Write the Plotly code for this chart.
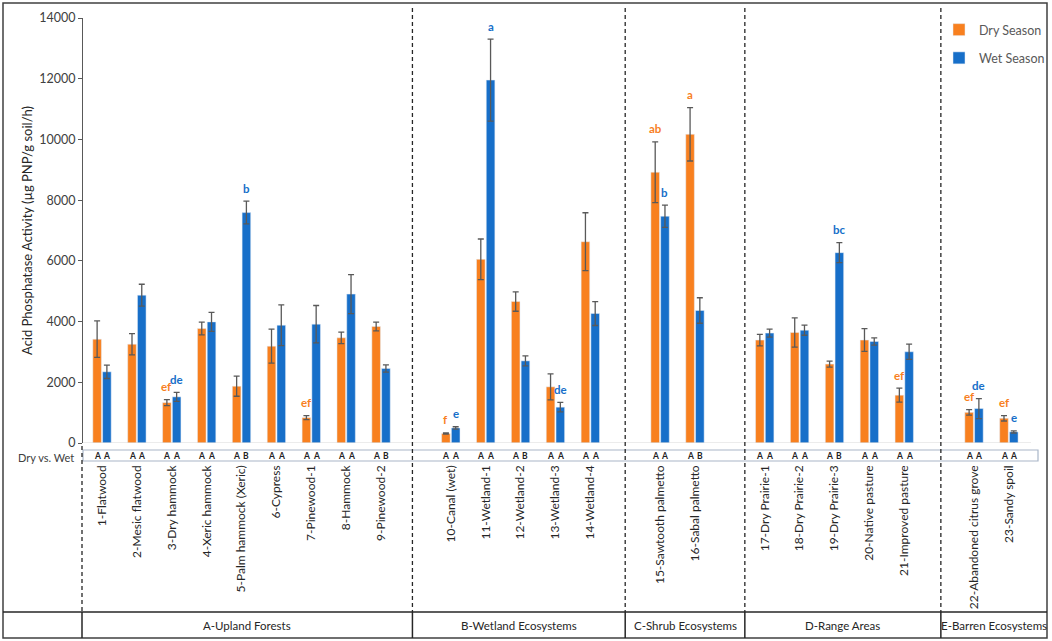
import plotly.graph_objects as go

groups = ["A-Upland Forests", "B-Wetland Ecosystems", "C-Shrub Ecosystems",
          "D-Range Areas", "E-Barren Ecosystems"]
group_sizes = [9, 5, 2, 5, 2]

sites = ["1-Flatwood", "2-Mesic flatwood", "3-Dry hammock", "4-Xeric hammock",
         "5-Palm hammock (Xeric)", "6-Cypress", "7-Pinewood-1", "8-Hammock", "9-Pinewood-2",
         "10-Canal (wet)", "11-Wetland-1", "12-Wetland-2", "13-Wetland-3", "14-Wetland-4",
         "15-Sawtooth palmetto", "16-Sabal palmetto",
         "17-Dry Prairie-1", "18-Dry Prairie-2", "19-Dry Prairie-3", "20-Native pasture",
         "21-Improved pasture",
         "22-Abandoned citrus grove", "23-Sandy spoil"]

dry = [3420, 3255, 1330, 3770, 1870, 3190, 835, 3465, 3840,
       310, 6050, 4660, 1850, 6630,
       8920, 10170,
       3390, 3640, 2600, 3390, 1575,
       1010, 815]
dry_err = [600, 350, 100, 210, 330, 560, 65, 190, 145,
           20, 670, 320, 430, 955,
           1000, 880,
           190, 485, 100, 375, 230,
           90, 90]
wet = [2345, 4870, 1520, 3990, 7590, 3880, 3915, 4905, 2455,
       495, 11955, 2705, 1180, 4265,
       7470, 4365,
       3620, 3715, 6270, 3345, 3005,
       1135, 365]
wet_err = [220, 360, 150, 310, 375, 670, 615, 640, 120,
           40, 1350, 165, 155, 395,
           365, 420,
           130, 165, 330, 120, 250,
           330, 35]

dry_sig = ["", "", "ef", "", "", "", "ef", "", "",
           "f", "", "", "", "",
           "ab", "a",
           "", "", "", "", "ef",
           "ef", "ef"]
wet_sig = ["", "", "de", "", "b", "", "", "", "",
           "e", "a", "", "de", "",
           "b", "",
           "", "", "bc", "", "",
           "de", "e"]

dvw_dry = list("AAAAAAAAA" "AAAAA" "AA" "AAAAA" "AA")
dvw_wet = list("AAAABAAAB" "AABAA" "AB" "AABAA" "AA")

ORANGE = "#F8801F"
BLUE = "#176FC9"
FONT = "Lato"

# slot positions: one empty slot between groups
pos, gaps = [], []
slot = 0
for n in group_sizes:
    pos += list(range(slot, slot + n))
    slot += n
    gaps.append(slot)
    slot += 1
gaps = gaps[:-1]
gap_shift = [-0.1, 0.0, 0.43, 0.05]
dividers = [g + s for g, s in zip(gaps, gap_shift)]

W, H = 1052, 641
ML, MR, MT, MB = 83, 4, 18, 198
SLOT = 34.88
XR = [-19 / SLOT, -19 / SLOT + (W - ML - MR) / SLOT]
YR = [0, 14000]


def pxx(px):
    return (px - ML) / (W - ML - MR)


def pxy(py):
    return (H - MB - py) / (H - MT - MB)


def d2p(x):
    return (x - XR[0]) / (XR[1] - XR[0])


fig = go.Figure()
fig.add_trace(go.Bar(
    x=pos, y=dry, name="Dry Season", marker_color=ORANGE, legendgroup="d",
    error_y=dict(type="data", array=dry_err, color="#595959", thickness=1.3, width=3),
    hoverinfo="y"))
fig.add_trace(go.Bar(
    x=pos, y=wet, name="Wet Season", marker_color=BLUE, legendgroup="w",
    error_y=dict(type="data", array=wet_err, color="#595959", thickness=1.3, width=3),
    hoverinfo="y"))

bargap = 0.44
off = (1 - bargap) / 4

ann = []
for i, p in enumerate(pos):
    for lab, val, err, dx, col in [(dry_sig[i], dry[i], dry_err[i], -off, ORANGE),
                                   (wet_sig[i], wet[i], wet_err[i], off, BLUE)]:
        if lab:
            ann.append(dict(x=p + dx, y=val + err, text="<b>" + lab + "</b>", showarrow=False,
                            xanchor="center", yanchor="middle", yshift=13,
                            font=dict(family=FONT, size=11.5, color=col)))
    for lab, dx in [(dvw_dry[i], -off), (dvw_wet[i], off)]:
        ann.append(dict(x=p + dx, y=pxy(456), yref="paper", text="<b>" + lab + "</b>",
                        xanchor="center", yanchor="middle",
                        showarrow=False, font=dict(family=FONT, size=8.5, color="#222")))

ann.append(dict(x=pxx(76), y=pxy(457), xref="paper", yref="paper", text="Dry vs. Wet",
                xanchor="right", yanchor="middle", showarrow=False,
                font=dict(family=FONT, size=11, color="#404040")))

# bottom table cells
edges = [pxx(82)] + [d2p(d) for d in dividers] + [pxx(1047)]
for k, g in enumerate(groups):
    ann.append(dict(x=(edges[k] + edges[k + 1]) / 2, y=pxy(625), xref="paper", yref="paper",
                    text=g, showarrow=False, xanchor="center", yanchor="middle",
                    font=dict(family=FONT, size=11.5, color="#262626")))

line_c = "#262626"
shapes = [
    # outer frame
    dict(type="rect", xref="paper", yref="paper", x0=pxx(3), x1=pxx(1047), y0=pxy(3), y1=pxy(638),
         line=dict(color="#404040", width=1.5)),
    # x baseline
    dict(type="line", xref="paper", yref="y", x0=pxx(83), x1=pxx(1031), y0=0, y1=0,
         line=dict(color="#D9D9D9", width=1.2)),
    # Dry vs Wet box
    dict(type="rect", xref="paper", yref="paper", x0=pxx(83), x1=pxx(1038), y0=pxy(450), y1=pxy(461),
         line=dict(color="#A9B6C8", width=1.2)),
    # group table top line
    dict(type="line", xref="paper", yref="paper", x0=pxx(3), x1=pxx(1047), y0=pxy(612), y1=pxy(612),
         line=dict(color=line_c, width=1.5)),
    dict(type="line", xref="paper", yref="paper", x0=pxx(82), x1=pxx(82), y0=pxy(612), y1=pxy(638),
         line=dict(color=line_c, width=1.5)),
    dict(type="line", xref="paper", yref="paper", x0=pxx(82), x1=pxx(82), y0=pxy(446), y1=pxy(612),
         line=dict(color=line_c, width=1.3, dash="4px,3px")),
]
for d in dividers:
    shapes.append(dict(type="line", xref="x", yref="paper", x0=d, x1=d, y0=pxy(8), y1=pxy(612),
                       line=dict(color=line_c, width=1.3, dash="4px,3px")))
    shapes.append(dict(type="line", xref="x", yref="paper", x0=d, x1=d, y0=pxy(612), y1=pxy(638),
                       line=dict(color=line_c, width=1.5)))

fig.update_layout(
    width=W, height=H,
    margin=dict(l=ML, r=MR, t=MT, b=MB, autoexpand=False),
    paper_bgcolor="white", plot_bgcolor="white",
    barmode="group", bargap=bargap, bargroupgap=0.12,
    font=dict(family=FONT, size=11, color="#404040"),
    showlegend=True,
    legend=dict(x=pxx(939), y=pxy(15), xanchor="left", yanchor="top",
                bgcolor="rgba(0,0,0,0)", tracegroupgap=9,
                font=dict(family=FONT, size=12.5, color="#595959")),
    annotations=ann,
    shapes=shapes,
    xaxis=dict(range=XR, tickmode="array", tickvals=pos, ticktext=sites, tickangle=-90,
               showgrid=False, zeroline=False, showline=False, automargin=False,
               ticks="", ticklabelstandoff=19,
               tickfont=dict(family=FONT, size=12, color="#262626")),
    yaxis=dict(range=YR, tickmode="linear", tick0=0, dtick=2000, tickformat="d",
               showgrid=False, zeroline=False, automargin=False,
               showline=True, linecolor="#595959", linewidth=1, ticks="outside", ticklen=4,
               tickcolor="#595959",
               tickfont=dict(family=FONT, size=12.5, color="#404040"),
               title=dict(text="Acid Phosphatase Activity (µg PNP/g soil/h)", standoff=3,
                          font=dict(family=FONT, size=13, color="#262626"))),
)

fig.write_html("out.html", config={"displayModeBar": False},
               post_script="document.body.style.margin='0px';"
                           "document.body.style.overflow='hidden';")
